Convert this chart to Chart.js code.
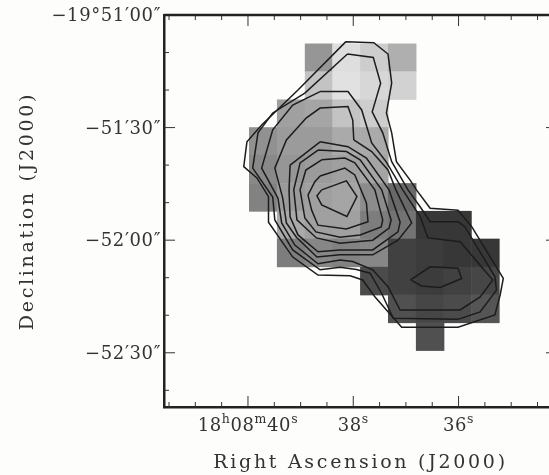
<!DOCTYPE html>
<html>
<head>
<meta charset="utf-8">
<script src="https://cdn.jsdelivr.net/npm/chart.js@4"></script>
<style>
html, body { margin: 0; padding: 0; width: 549px; height: 475px; overflow: hidden; background: #fdfdfb; }
canvas { display: block; filter: blur(0.45px); }
</style>
</head>
<body>
<canvas id="myChart" width="560" height="475"></canvas>
<script>
// axis labels, RA in seconds of 18h08m, Dec in arcsec below -19d50'
const raTickVals = [40, 38, 36];
const raTickLabels = [[["18", "h"], ["08", "m"], ["40", "s"]], [["38", "s"]], [["36", "s"]]];
const decTickVals = [-60, -90, -120, -150];
const decTickLabels = ["−19°51′00″", "−51′30″", "−52′00″", "−52′30″"];
const raTitle = "Right Ascension (J2000)";
const decTitle = "Declination (J2000)";

// greyscale map, cell centres and brightness per cell
const cellRa = [39.71, 39.18, 38.65, 38.13, 37.60, 37.07, 36.54, 36.02, 35.49];
const cellDec = [-71.4, -78.8, -86.3, -93.7, -101.1, -108.6, -116.0, -123.4, -130.9, -138.3, -145.7];
const cellFlux = [
    [null, null, 105, 33, 50, 80, null, null, null],
    [null, null, 60, 30, 40, 45, null, null, null],
    [null, 95, 90, 60, 50, null, null, null, null],
    [110, 100, 100, 85, 85, null, null, null, null],
    [118, 105, 100, 95, 90, null, null, null, null],
    [125, 100, 95, 90, 115, 150, null, null, null],
    [null, 85, 95, 95, 130, 140, 200, 200, null],
    [null, 130, 120, 125, 120, 190, 195, 200, 200],
    [null, null, null, null, 180, 190, 195, 190, 185],
    [null, null, null, null, null, 175, 185, 180, 170],
    [null, null, null, null, null, null, 175, null, null]
];

// contour levels, outermost first
const contour1 = [[38.14,-67.1],[37.61,-67.4],[37.34,-70.4],[37.27,-78.1],[37.37,-86.1],[37.27,-91.4],[37.18,-99.1],[36.92,-104.0],[36.80,-106.6],[36.54,-111.5],[36.01,-112.0],[35.75,-116.4],[35.15,-130.2],[35.21,-134.6],[35.31,-139.9],[36.01,-143.2],[37.08,-143.2],[37.34,-139.1],[37.59,-135.1],[37.82,-130.6],[38.06,-129.5],[38.67,-129.3],[39.15,-124.5],[39.61,-115.2],[39.61,-108.4],[39.83,-103.4],[40.08,-100.4],[40.02,-93.8],[39.74,-89.3],[39.05,-80.0]];
const contour2 = [[38.11,-70.4],[37.62,-71.3],[37.48,-78.2],[37.64,-85.8],[37.44,-91.4],[37.27,-99.1],[36.96,-106.6],[36.73,-111.1],[36.54,-115.1],[36.01,-115.1],[35.88,-116.4],[35.31,-129.7],[35.28,-133.3],[35.59,-139.1],[36.01,-141.1],[37.24,-140.8],[37.46,-134.2],[37.68,-128.8],[37.94,-127.8],[38.25,-127.2],[38.63,-127.9],[39.15,-122.6],[39.49,-114.6],[39.53,-108.5],[39.91,-100.8],[39.81,-91.4],[39.53,-86.1],[38.92,-80.8]];
const contour3 = [[38.63,-80.4],[38.10,-80.4],[37.84,-85.3],[37.65,-94.1],[37.37,-99.2],[37.06,-106.6],[36.73,-113.7],[36.58,-119.4],[35.97,-120.4],[35.35,-130.6],[35.59,-135.1],[35.97,-138.6],[37.11,-138.6],[37.34,-132.4],[37.63,-127.9],[38.01,-125.7],[38.25,-125.3],[38.67,-126.3],[39.11,-121.3],[39.36,-115.4],[39.43,-108.8],[39.74,-100.8],[39.53,-90.6],[39.15,-84.0]];
const contour4 = [[37.99,-93.3],[37.65,-96.4],[37.34,-101.3],[37.19,-106.6],[36.89,-115.4],[37.15,-120.0],[37.63,-123.9],[38.25,-123.9],[38.69,-124.5],[39.08,-119.2],[39.27,-115.4],[39.34,-108.8],[39.49,-100.8],[39.27,-93.3],[38.89,-87.4],[38.63,-84.8],[38.10,-84.4],[38.01,-88.0]];
const contour5 = [[38.63,-93.8],[38.10,-95.1],[37.75,-98.1],[37.32,-106.6],[37.11,-115.2],[37.15,-117.8],[37.63,-122.6],[38.25,-122.6],[38.67,-123.1],[39.05,-118.6],[39.20,-113.8],[39.22,-106.6],[39.20,-100.0]];
const contour6 = [[38.67,-96.0],[38.13,-96.4],[37.87,-98.6],[37.46,-106.6],[37.28,-114.6],[37.32,-116.8],[37.63,-120.0],[38.25,-120.8],[38.70,-119.4],[39.07,-114.6],[39.13,-106.6],[39.01,-99.4]];
const contour7 = [[38.60,-98.6],[38.16,-98.1],[37.97,-99.4],[37.59,-106.6],[37.44,-114.6],[37.47,-116.5],[37.87,-118.6],[38.25,-119.2],[38.71,-117.8],[38.92,-114.1],[39.01,-106.6],[38.90,-101.3]];
const contour8 = [[38.63,-102.9],[38.16,-100.8],[37.97,-102.6],[37.75,-110.1],[37.72,-115.1],[38.13,-117.0],[38.67,-116.0],[38.79,-112.0],[38.86,-108.0],[38.73,-104.4]];
const contour9 = [[38.60,-106.6],[38.13,-104.2],[37.93,-108.4],[38.12,-113.7],[38.60,-110.6],[38.69,-108.2]];
const contour10 = [[36.91,-130.6],[36.54,-127.1],[36.01,-127.5],[35.94,-130.2],[36.35,-132.6],[36.70,-132.2]];
const contours = [contour1, contour2, contour3, contour4, contour5, contour6, contour7, contour8, contour9, contour10];

const cellHeight = 7.43;
const axisFont = "DejaVu Serif";
const inkColor = "#333";

var cellData = [];
var cellColors = [];
for (let r = 0; r < cellDec.length; r++) {
    for (let c = 0; c < cellRa.length; c++) {
        if (cellFlux[r][c] === null) continue;
        cellData.push({ x: cellRa[c], y: [cellDec[r] - cellHeight / 2, cellDec[r] + cellHeight / 2] });
        let g = 255 - cellFlux[r][c];
        cellColors.push(`rgb(${g},${g},${g})`);
    }
}

var datasets = [{
    type: "bar",
    data: cellData,
    backgroundColor: cellColors,
    barThickness: 27.8,
    grouped: false,
    order: 2,
}];
contours.forEach(c => {
    datasets.push({
        type: "scatter",
        data: c.concat([c[0]]).map(p => ({ x: p[0], y: p[1] })),
        showLine: true,
        borderColor: "#1c1c1c",
        borderWidth: 1.5,
        pointRadius: 0,
        tension: 0,
        order: 1,
    });
});

// frame ticks on all four sides, RA labels with raised units, spaced out axis titles
const framePlugin = {
    id: "frame",
    beforeDraw(chart) {
        chart.ctx.letterSpacing = "0.6px";
    },
    afterDraw(chart) {
        const ctx = chart.ctx;
        const a = chart.chartArea;
        const xs = chart.scales.x;
        const ys = chart.scales.y;
        ctx.save();
        ctx.strokeStyle = inkColor;
        ctx.lineWidth = 1;
        ctx.beginPath();
        for (let v = 34.5; v <= 41.5; v += 0.5) {
            let p = xs.getPixelForValue(v);
            let len = v % 2 === 0 ? 11 : 5;
            ctx.moveTo(p, a.bottom);
            ctx.lineTo(p, a.bottom - len);
            ctx.moveTo(p, a.top);
            ctx.lineTo(p, a.top + len);
        }
        for (let v = -60; v >= -160; v -= 10) {
            let p = ys.getPixelForValue(v);
            let len = v % 30 === 0 ? 11 : 5;
            ctx.moveTo(a.left, p);
            ctx.lineTo(a.left + len, p);
            ctx.moveTo(a.right, p);
            ctx.lineTo(a.right - len, p);
        }
        ctx.stroke();
        ctx.lineWidth = 2.5;
        ctx.strokeStyle = "#222";
        ctx.beginPath();
        ctx.moveTo(a.left, a.top);
        ctx.lineTo(a.right, a.top);
        ctx.lineTo(a.right, a.bottom);
        ctx.stroke();

        ctx.fillStyle = inkColor;
        ctx.textBaseline = "alphabetic";
        ctx.textAlign = "left";
        ctx.letterSpacing = "0.6px";
        raTickVals.forEach((v, i) => {
            let runs = raTickLabels[i];
            let total = 0;
            runs.forEach(r => {
                ctx.font = "18px '" + axisFont + "'";
                total += ctx.measureText(r[0]).width;
                ctx.font = "12.5px '" + axisFont + "'";
                total += ctx.measureText(r[1]).width;
            });
            let px = xs.getPixelForValue(v) - total / 2;
            runs.forEach(r => {
                ctx.font = "18px '" + axisFont + "'";
                ctx.fillText(r[0], px, 431);
                px += ctx.measureText(r[0]).width;
                ctx.font = "12.5px '" + axisFont + "'";
                ctx.fillText(r[1], px, 423);
                px += ctx.measureText(r[1]).width;
            });
        });

        ctx.font = "19px '" + axisFont + "'";
        ctx.textAlign = "center";
        ctx.textBaseline = "alphabetic";
        ctx.letterSpacing = "2.7px";
        ctx.fillText(raTitle, (a.left + a.right) / 2, 468);
        ctx.translate(33, (a.top + a.bottom) / 2);
        ctx.rotate(-Math.PI / 2);
        ctx.fillText(decTitle, 0, 0);
        ctx.restore();
    }
};

var mychart = new Chart("myChart", {
    data: { datasets: datasets },
    options: {
        responsive: false,
        animation: false,
        events: [],
        layout: { padding: { top: 15, right: 3 } },
        plugins: { legend: { display: false }, tooltip: { enabled: false } },
        scales: {
            x: {
                type: "linear",
                reverse: true,
                offset: false,
                min: 34.13,
                max: 41.595,
                grid: { display: false, drawTicks: false },
                border: { color: "#222", width: 2.5 },
                afterBuildTicks: s => { s.ticks = raTickVals.map(v => ({ value: v })); },
                afterFit: s => { s.height = 68; },
                ticks: { display: false },
            },
            y: {
                type: "linear",
                min: -164.45,
                max: -60,
                grid: { display: false, drawTicks: false },
                border: { color: "#222", width: 2.5 },
                afterBuildTicks: s => { s.ticks = decTickVals.map(v => ({ value: v })); },
                afterFit: s => { s.width = 164; },
                ticks: {
                    autoSkip: false,
                    padding: 3,
                    labelOffset: 1.5,
                    color: inkColor,
                    font: { family: axisFont, size: 18 },
                    callback: v => decTickLabels[decTickVals.indexOf(v)],
                },
            },
        },
    },
    plugins: [framePlugin],
});
</script>
</body>
</html>
